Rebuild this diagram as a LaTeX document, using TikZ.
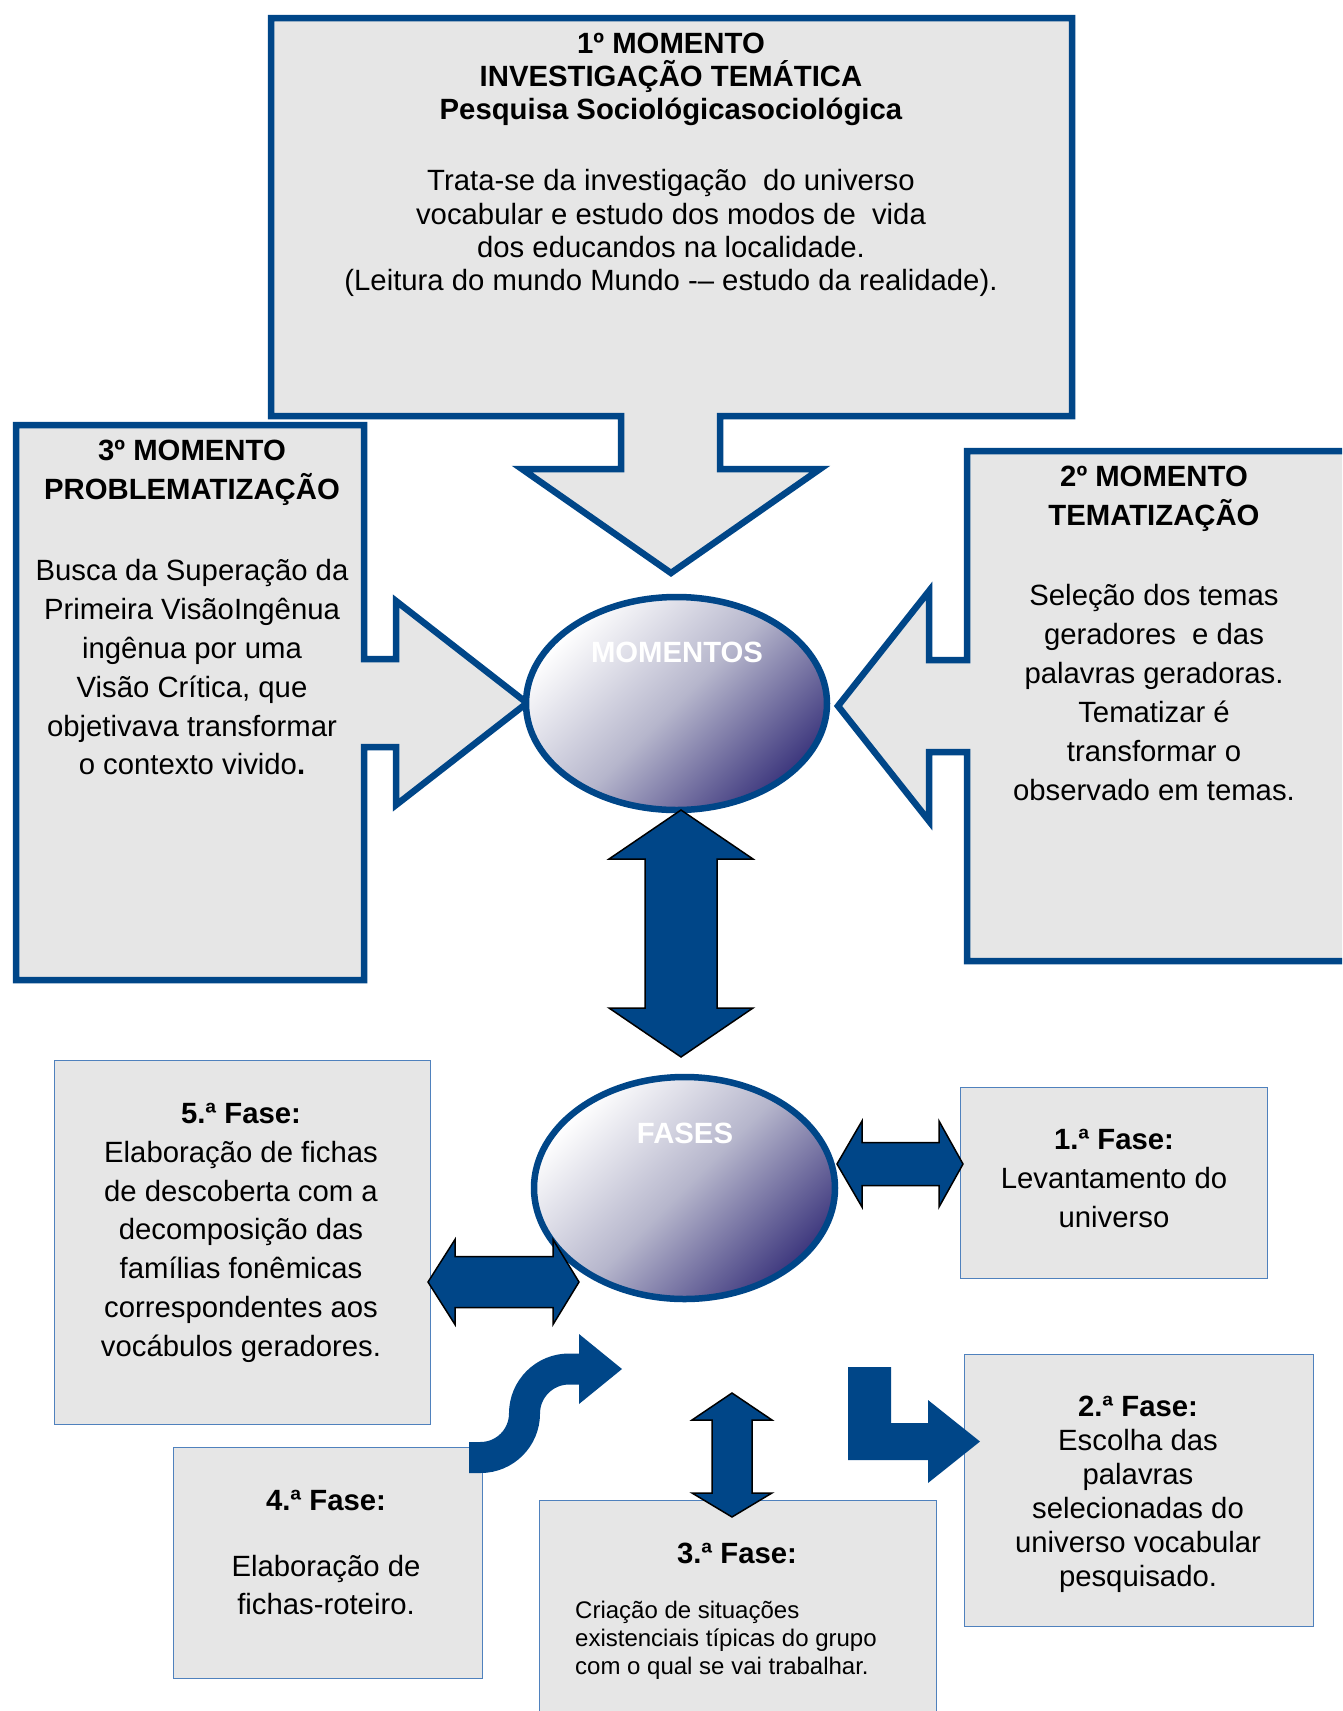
\documentclass[tikz,border=0pt]{standalone}
\usepackage{fontspec}
\setmainfont{Liberation Sans}
\usetikzlibrary{shapes.geometric}
\definecolor{navy}{RGB}{0,70,136}
\definecolor{boxgrey}{RGB}{230,230,230}
\definecolor{thinblue}{RGB}{79,129,189}
\definecolor{ellend}{RGB}{62,56,126}
\definecolor{ellmid}{RGB}{182,182,204}
\begin{document}
\begin{tikzpicture}[x=1pt,y=-1pt,
  callout/.style={fill=boxgrey, draw=navy, line width=6.5pt, line join=miter},
  blockarrow/.style={fill=navy, draw=black, line width=1.5pt, line join=miter},
  fasebox/.style={rectangle, fill=boxgrey, draw=thinblue, line width=1.2pt, inner sep=0pt, anchor=north west},
  ell/.style={ellipse, draw=navy, line width=6.5pt, inner sep=0pt, top color=white, bottom color=ellend, middle color=ellmid, shading angle=45},
  elltext/.style={text=white, font=\fontsize{29.3}{34}\selectfont\bfseries},
  body/.style={align=center, inner sep=0pt, anchor=north},
]
\useasboundingbox (0,0) rectangle (1342,1711);
\clip (0,0) rectangle (1342,1711);
\fill[white] (0,0) rectangle (1342,1711);

% callout boxes
\path[callout] (271,18) -- (1072,18) -- (1072,416) -- (720,416) -- (720,469) -- (820,469) -- (671,573) -- (522,469) -- (621,469) -- (621,416) -- (271,416) -- cycle;
\path[callout] (16,425) -- (364,425) -- (364,659) -- (396,659) -- (396,601) -- (527,703) -- (396,805) -- (396,747) -- (364,747) -- (364,980) -- (16,980) -- cycle;
\path[callout] (967,451) -- (1360,451) -- (1360,961) -- (967,961) -- (967,752) -- (929,752) -- (929,821) -- (838,706) -- (929,591) -- (929,660) -- (967,660) -- cycle;

\node[body, font=\fontsize{29.3}{33.3}\selectfont] (t1) at (671,32.5) {\textbf{1º MOMENTO}\\\textbf{INVESTIGAÇÃO TEMÁTICA}\\\textbf{Pesquisa Sociológicasociológica}\\[37.7pt]Trata-se da investigação~ do universo\\vocabular e estudo dos modos de~ vida\\dos educandos na localidade.\\(Leitura do mundo Mundo -– estudo da realidade).};
\node[body, font=\fontsize{29.3}{38.9}\selectfont] (t3) at (192,440) {\textbf{3º MOMENTO}\\\textbf{PROBLEMATIZAÇÃO}\\[42pt]Busca da Superação da\\Primeira VisãoIngênua\\ingênua por uma\\Visão Crítica, que\\objetivava transformar\\o contexto vivido\textbf{.}};
\node[body, font=\fontsize{29.3}{39}\selectfont] (t2) at (1154,466) {\textbf{2º MOMENTO}\\\textbf{TEMATIZAÇÃO}\\[41pt]Seleção dos temas\\geradores~ e das\\palavras geradoras.\\Tematizar é\\transformar o\\observado em temas.};

% ellipses
\node[ell, minimum width=301pt, minimum height=213pt] (momentos) at (676.5,703.5) {};
\node[elltext] (momentoslabel) at (677,652) {MOMENTOS};
\path[blockarrow] (681,810) -- (753,859) -- (717,859) -- (717,1008) -- (753,1008) -- (681,1057) -- (609,1008) -- (645,1008) -- (645,859) -- (609,859) -- cycle;
\node[ell, minimum width=301pt, minimum height=222pt] (fases) at (684.5,1188) {};
\node[elltext] (faseslabel) at (685,1133) {FASES};

% fase boxes
\node[fasebox, minimum width=376.5pt, minimum height=364pt] (f5) at (53.5,1060) {};
\node[fasebox, minimum width=309pt, minimum height=230.5pt] (f4) at (172.5,1447) {};
\node[fasebox, minimum width=307pt, minimum height=191.5pt] (f1) at (960,1086.5) {};
\node[fasebox, minimum width=349.5pt, minimum height=271.5pt] (f2) at (963.5,1354) {};
\node[fasebox, minimum width=397.5pt, minimum height=240pt] (f3) at (538.5,1500) {};

\node[body, font=\fontsize{29.3}{39}\selectfont] (t1f) at (1114,1129) {\textbf{1.ª Fase:}\\Levantamento do\\universo};
\node[body, font=\fontsize{29.3}{38.8}\selectfont] (t5f) at (241,1103) {\textbf{5.ª Fase:}\\Elaboração de fichas\\de descoberta com a\\decomposição das\\famílias fonêmicas\\correspondentes aos\\vocábulos geradores.};
\node[body, font=\fontsize{29.3}{37.5}\selectfont] (t4f) at (326,1490) {\textbf{4.ª Fase:}\\[28.5pt]Elaboração de\\fichas-roteiro.};
\node[body, font=\fontsize{29.3}{34}\selectfont] (t2f) at (1138,1396) {\textbf{2.ª Fase:}\\Escolha das\\palavras\\selecionadas do\\universo vocabular\\pesquisado.};
\node[anchor=base, inner sep=0pt, font=\fontsize{29.3}{34}\selectfont\bfseries] (t3f) at (737,1563.5) {3.ª Fase:};
\node[anchor=north west, align=left, inner sep=0pt, font=\fontsize{24}{28}\selectfont] (b3f) at (575,1601) {Criação de situações\\existenciais típicas do grupo\\com o qual se vai trabalhar.};

% arrows around FASES
\path[blockarrow] (837,1164) -- (862,1121) -- (862,1142.5) -- (939,1142.5) -- (939,1121) -- (963,1164) -- (939,1207) -- (939,1185.5) -- (862,1185.5) -- (862,1207) -- cycle;
\path[blockarrow] (428,1282) -- (455,1239.5) -- (455,1256.5) -- (553,1256.5) -- (553,1239.5) -- (579,1282) -- (553,1324.5) -- (553,1307.5) -- (455,1307.5) -- (455,1324.5) -- cycle;
\path[blockarrow] (732,1393) -- (772,1420) -- (752,1420) -- (752,1493) -- (772,1493) -- (732,1517) -- (692,1493) -- (712,1493) -- (712,1420) -- (692,1420) -- cycle;
\draw[navy, line width=31pt] (469,1457.5) -- (480.5,1457.5) .. controls (504.8,1457.5) and (524.5,1437.8) .. (524.5,1413.5) .. controls (524.5,1388.9) and (544.4,1369) .. (569,1369) -- (580,1369);
\fill[navy] (579,1334) -- (622,1369) -- (579,1404) -- cycle;
\fill[navy] (848,1367) -- (891,1367) -- (891,1423) -- (928,1423) -- (928,1400) -- (980,1441.5) -- (928,1483) -- (928,1460) -- (848,1460) -- cycle;
\end{tikzpicture}
\end{document}
